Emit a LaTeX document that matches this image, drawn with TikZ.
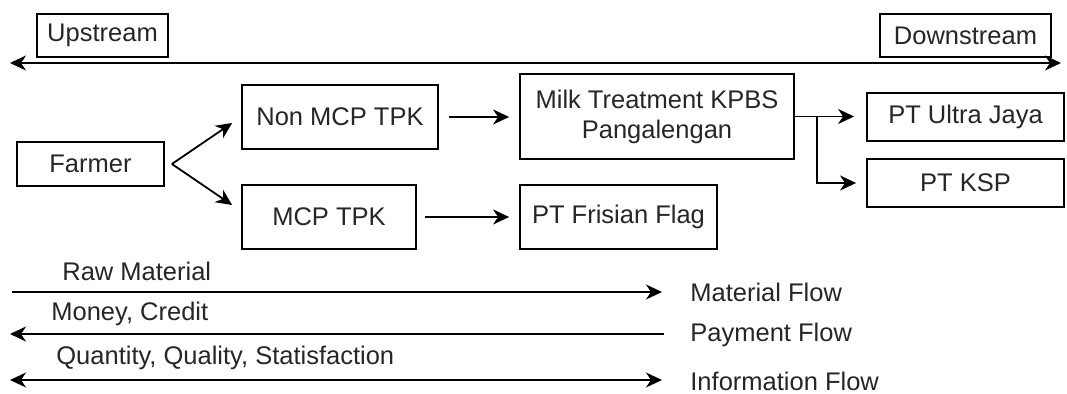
\documentclass[tikz,border=0pt]{standalone}
\usepackage{fontspec}
\setmainfont{Liberation Sans}
\usetikzlibrary{arrows.meta}

\tikzset{
  >={Stealth[length=8pt,width=7.5pt,inset=2.5pt]},
  box/.style 2 args={draw, line width=0.9pt, inner sep=0pt, align=center,
    text=black!85, minimum width=#1*0.5pt, minimum height=#2*0.5pt},
  flow/.style={->, line width=0.9pt},
  lbl/.style={anchor=west, inner sep=0pt, text=black!85},
}

\begin{document}
\begin{tikzpicture}[x=0.5pt, y=-0.5pt, font=\fontsize{12.75}{15}\selectfont]
  \useasboundingbox (0,0) rectangle (1067,394);
  \def\rowA{292};
  \def\rowB{334};
  \def\rowC{380};
  \def\arrEnd{662};
  \def\flowX{690};
  %
  \node[box={131}{43}] (upstream)   at (102.5,35.5) {Upstream};
  \node[box={171}{43}] (downstream) at (965.5,35.5) {Downstream};
  \coordinate (streamL) at (10,63);
  \coordinate (streamR) at (1061,63);
  \draw[<->, line width=0.9pt] (streamL) -- (streamR);
  %
  \node[box={147}{44}] (farmer)  at (90.5,164)  {Farmer};
  \node[box={196}{64}] (nonmcp)  at (340,117)   {Non MCP TPK};
  \node[box={174}{64}] (mcp)     at (329,217)   {MCP TPK};
  \node[box={274}{85}] (milk)    at (657,116.5) {Milk Treatment KPBS\\Pangalengan};
  \node[box={197}{64}] (frisian) at (618.5,217) {PT Frisian Flag};
  \node[box={197}{48}] (ultra)   at (965.5,117) {PT Ultra Jaya};
  \node[box={197}{48}] (ksp)     at (965.5,183) {PT KSP};
  %
  \draw[flow] ([xshift=3.5pt]farmer.east) -- ([shift={(-4.5pt,-3pt)}]nonmcp.west);
  \draw[flow] ([xshift=3.5pt]farmer.east) -- ([shift={(-4.5pt,6pt)}]mcp.west);
  \draw[flow, shorten <=5pt, shorten >=5pt] (nonmcp.east) -- (nonmcp.east -| milk.west);
  \draw[flow, shorten <=4pt, shorten >=5pt] (mcp.east) -- (mcp.east -| frisian.west);
  \draw[flow, shorten >=6pt] (milk.east) -- (milk.east -| ultra.west);
  \draw[flow, shorten >=5pt] (milk.east) -- ++(22,0) |- (ksp.west);
  %
  \node[lbl] (rawmat)   at (62,\rowA-21)   {Raw Material};
  \node[lbl] (money)    at (51,\rowB-20)   {Money, Credit};
  \node[lbl] (quantity) at (56,\rowC-22)   {Quantity, Quality, Statisfaction};
  \node[lbl] (matflow)  at (\flowX,\rowA)  {Material Flow};
  \node[lbl] (payflow)  at (\flowX,\rowB+1){Payment Flow};
  \node[lbl] (infoflow) at (\flowX,\rowC+1){Information Flow};
  %
  \coordinate (matL)  at (12,\rowA);
  \coordinate (matR)  at (\arrEnd,\rowA);
  \coordinate (payL)  at (10,\rowB);
  \coordinate (payR)  at (\arrEnd+2,\rowB);
  \coordinate (infoL) at (10,\rowC);
  \coordinate (infoR) at (\arrEnd,\rowC);
  \draw[->, line width=0.9pt]  (matL) -- (matR);
  \draw[<-, line width=0.9pt]  (payL) -- (payR);
  \draw[<->, line width=0.9pt] (infoL) -- (infoR);
\end{tikzpicture}
\end{document}
